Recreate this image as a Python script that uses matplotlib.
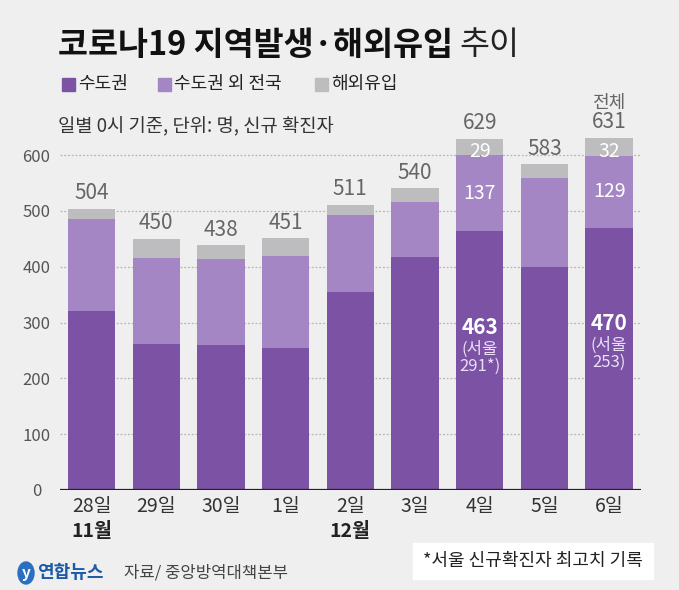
import numpy as np
import matplotlib.pyplot as plt
from matplotlib.patches import Rectangle, Ellipse

plt.rcParams['font.family'] = ['Noto Sans CJK KR', 'DejaVu Sans']

days = ['28일', '29일', '30일', '1일', '2일', '3일', '4일', '5일', '6일']
capital = np.array([320, 262, 260, 254, 354, 418, 463, 400, 470])
non_capital = np.array([166, 154, 154, 166, 139, 98, 137, 159, 129])
overseas = np.array([18, 34, 24, 31, 18, 24, 29, 24, 32])
totals = capital + non_capital + overseas
seoul = {6: '291*', 8: '253'}

c_cap = '#7b52a4'
c_non = '#a386c3'
c_ovs = '#bdbcbe'
bg = '#efefef'

W, H = 679, 590
fig = plt.figure(figsize=(W / 100, H / 100), dpi=100, facecolor=bg)

def fx(x):
    return x / W

def fy(y):
    return 1 - y / H

# axes: baseline at y=490 px, 600 gridline at y=155 px
ppu = (490 - 155) / 600
ytop = (490 - 128) / ppu
ax = fig.add_axes([fx(60), fy(490), fx(641) - fx(60), (490 - 128) / H])
ax.set_facecolor(bg)
x = np.arange(len(days))
xl = (60 - 91.5) / 64.7
xr = (641 - 91.5) / 64.7
ax.set_xlim(xl, xr)
ax.set_ylim(0, ytop)

for v in range(100, 700, 100):
    ax.axhline(v, color='#b5b5b5', lw=0.9, ls=(0, (1.5, 1.5)), zorder=0)

bw = 0.73
ax.bar(x, capital, bw, color=c_cap, zorder=2)
ax.bar(x, non_capital, bw, bottom=capital, color=c_non, zorder=2)
ax.bar(x, overseas, bw, bottom=capital + non_capital, color=c_ovs, zorder=2)
ax.axhline(0, color='#222222', lw=1.6, zorder=3)

for s in ax.spines.values():
    s.set_visible(False)

ax.set_yticks(range(0, 700, 100))
ax.tick_params(axis='y', length=0, pad=17, labelsize=12, labelcolor='#555555')
for lbl in ax.get_yticklabels():
    lbl.set_ha('center')
ax.set_xticks(x)
ax.set_xticklabels(days)
ax.tick_params(axis='x', length=0, pad=4, labelsize=14, labelcolor='#333333')

for i in range(len(days)):
    ax.text(x[i], totals[i] + 8, str(totals[i]), ha='center', va='bottom',
            fontsize=15, color='#666666')
    if i in seoul:
        top2 = capital[i] + non_capital[i]
        ax.text(x[i], top2 + overseas[i] / 2 - 8, str(overseas[i]), ha='center', va='center',
                fontsize=14, color='white')
        ax.text(x[i], capital[i] + non_capital[i] / 2, str(non_capital[i]), ha='center',
                va='center', fontsize=14, color='white')
        ax.text(x[i], capital[i] - 172, str(capital[i]), ha='center', va='center',
                fontsize=15, color='white', fontweight='bold')
        ax.text(x[i], capital[i] - 195, '(서울\n' + seoul[i] + ')', ha='center', va='top',
                fontsize=12, color='#eadff7', linespacing=1.05)
ax.text(x[8], totals[8] + 47, '전체', ha='center', va='bottom', fontsize=13, color='#666666')

# month labels under the x ticks
ax.text(x[0], -75, '11월', ha='center', va='center', fontsize=14, fontweight='bold',
        color='#222222')
ax.text(x[4], -75, '12월', ha='center', va='center', fontsize=14, fontweight='bold',
        color='#222222')

# title
t1 = fig.text(fx(58), fy(45), '코로나19 지역발생·해외유입', fontsize=23.5, fontweight='bold',
              va='center', ha='left', color='#111111')
fig.canvas.draw()
bb = t1.get_window_extent()
fig.text(bb.x1 / W + fx(6), fy(45), '추이', fontsize=23.5, va='center', ha='left',
         color='#222222')

# legend
leg = [('수도권', c_cap, 62), ('수도권 외 전국', c_non, 158), ('해외유입', c_ovs, 315)]
for name, col, px in leg:
    fig.patches.append(Rectangle((fx(px), fy(91)), fx(13), 13 / H, transform=fig.transFigure,
                                 color=col, figure=fig))
    fig.text(fx(px + 16), fy(84), name, fontsize=13, va='center', ha='left', color='#222222')

fig.text(fx(58), fy(127), '일별 0시 기준, 단위: 명, 신규 확진자', fontsize=13.5,
         va='center', ha='left', color='#333333')

# footnote box
fig.patches.append(Rectangle((fx(413), fy(579)), fx(240), 36 / H, transform=fig.transFigure,
                             color='white', figure=fig))
fig.text(fx(533), fy(561), '*서울 신규확진자 최고치 기록', fontsize=13, va='center',
         ha='center', color='#222222')

# logo and source
fig.patches.append(Ellipse((fx(26), fy(573)), fx(16), 22 / H, angle=0,
                           transform=fig.transFigure, color='#2a6fc0', figure=fig))
fig.text(fx(26), fy(573), 'y', fontsize=11, fontweight='bold', color='white', ha='center',
         va='center', style='italic')
fig.text(fx(37), fy(573), '연합뉴스', fontsize=13, fontweight='bold', color='#1d5aa8',
         va='center', ha='left')
fig.text(fx(124), fy(573), '자료/ 중앙방역대책본부', fontsize=12, color='#444444',
         va='center', ha='left')

fig.savefig('out.png', dpi=100, facecolor=bg)
